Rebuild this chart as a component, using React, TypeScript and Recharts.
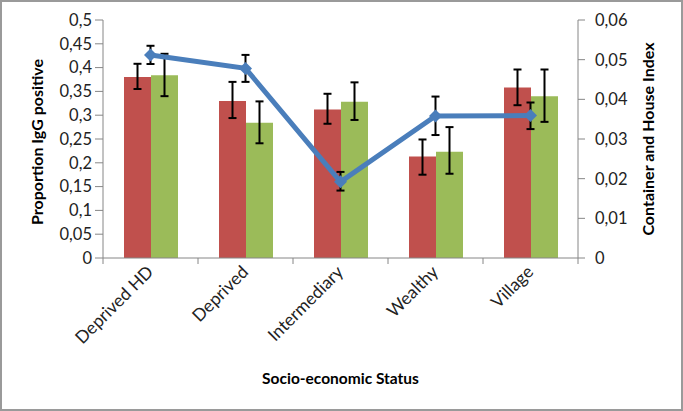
import React from 'react';
import { ComposedChart, Bar, Line, XAxis, YAxis, ErrorBar, Label } from 'recharts';

const categories = ['Deprived HD', 'Deprived', 'Intermediary', 'Wealthy', 'Village'];

// proportion IgG positive (red and green bars) with 95% CI bounds
const iggRed = [0.38, 0.33, 0.312, 0.213, 0.358];
const iggRedLow = [0.355, 0.294, 0.282, 0.175, 0.321];
const iggRedHigh = [0.408, 0.37, 0.345, 0.249, 0.396];

const iggGreen = [0.384, 0.284, 0.328, 0.223, 0.34];
const iggGreenLow = [0.34, 0.241, 0.29, 0.177, 0.286];
const iggGreenHigh = [0.429, 0.329, 0.369, 0.275, 0.396];

// container and house index (blue line)
const houseIndex = [0.0512, 0.0478, 0.0192, 0.0358, 0.0359];
const houseIndexLow = [0.0489, 0.0444, 0.017, 0.031, 0.0325];
const houseIndexHigh = [0.0535, 0.0512, 0.0217, 0.0407, 0.0392];

const leftTicks = [0, 0.05, 0.1, 0.15, 0.2, 0.25, 0.3, 0.35, 0.4, 0.45, 0.5];
const rightTicks = [0, 0.01, 0.02, 0.03, 0.04, 0.05, 0.06];

const data = categories.map((name, i) => ({
  name,
  red: iggRed[i],
  redErr: [iggRed[i] - iggRedLow[i], iggRedHigh[i] - iggRed[i]],
  green: iggGreen[i],
  greenErr: [iggGreen[i] - iggGreenLow[i], iggGreenHigh[i] - iggGreen[i]],
  index: houseIndex[i],
  indexErr: [houseIndex[i] - houseIndexLow[i], houseIndexHigh[i] - houseIndex[i]],
}));

const FONT = 'Lato, "Open Sans", sans-serif';
const AXIS = '#868686';

const comma = (v: number) => String(v).replace('.', ',');

const CategoryTick = (props: any) => {
  const { x, payload, index } = props;
  const half = payload && payload.offset ? payload.offset : 47.5;
  const ay = 258;
  return (
    <g>
      <line x1={x - half} y1={ay} x2={x - half} y2={ay + 6} stroke={AXIS} />
      {index === categories.length - 1 && (
        <line x1={x + half} y1={ay} x2={x + half} y2={ay + 6} stroke={AXIS} />
      )}
      <text
        x={x + 4}
        y={ay + 15}
        transform={`rotate(-45, ${x + 4}, ${ay + 15})`}
        textAnchor="end"
        fontFamily={FONT}
        fontSize={17.5}
        fill="#222"
      >
        {payload.value}
      </text>
    </g>
  );
};

const Diamond = (props: any) => {
  const { cx, cy, index } = props;
  if (cx == null || cy == null) return <g key={index} />;
  const s = 6.5;
  return (
    <path
      key={index}
      d={`M${cx},${cy - s} L${cx + s},${cy} L${cx},${cy + s} L${cx - s},${cy} Z`}
      fill="#4A7EBB"
    />
  );
};

export default function App() {
  return (
    <div style={{ position: 'absolute', left: 0, top: 0, width: 683, height: 411 }}>
      <div
        style={{
          position: 'absolute',
          left: 0,
          top: 0,
          width: 683,
          height: 411,
          boxSizing: 'border-box',
          border: '2px solid #9a9a9a',
        }}
      />
      <ComposedChart
        width={683}
        height={411}
        data={data}
        margin={{ top: 20, right: 0, left: 0, bottom: 0 }}
        barGap={0}
        style={{ position: 'absolute', left: 0, top: 0 }}
      >
        <XAxis
          dataKey="name"
          height={153}
          stroke={AXIS}
          tickLine={false}
          interval={0}
          tick={<CategoryTick />}
        >
          <Label
            value="Socio-economic Status"
            position="center"
            dy={44}
            style={{ fontFamily: FONT, fontSize: 15.5, fontWeight: 700, fill: '#000' }}
          />
        </XAxis>
        <YAxis
          yAxisId="left"
          width={103}
          domain={[0, 0.5]}
          ticks={leftTicks}
          interval={0}
          tickFormatter={comma}
          stroke={AXIS}
          tickSize={8}
          tickMargin={3}
          tick={{ fontFamily: FONT, fontSize: 16.5, fill: '#222' }}
        >
          <Label
            value="Proportion IgG positive"
            angle={-90}
            position="center"
            dx={-14}
            dy={3}
            style={{ fontFamily: FONT, fontSize: 16, fontWeight: 700, fill: '#000', textAnchor: 'middle' }}
          />
        </YAxis>
        <YAxis
          yAxisId="right"
          orientation="right"
          width={105}
          domain={[0, 0.06]}
          ticks={rightTicks}
          interval={0}
          tickFormatter={comma}
          stroke={AXIS}
          tickSize={7}
          tickMargin={10}
          tick={{ fontFamily: FONT, fontSize: 16.5, fill: '#222' }}
        >
          <Label
            value="Container and House Index"
            angle={-90}
            position="center"
            dx={18}
            style={{ fontFamily: FONT, fontSize: 16, fontWeight: 700, fill: '#000', textAnchor: 'middle' }}
          />
        </YAxis>
        <Bar yAxisId="left" dataKey="red" fill="#C0504D" barSize={27} isAnimationActive={false}>
          <ErrorBar dataKey="redErr" width={4} stroke="#000" strokeWidth={2} />
        </Bar>
        <Bar yAxisId="left" dataKey="green" fill="#9BBB59" barSize={27} isAnimationActive={false}>
          <ErrorBar dataKey="greenErr" width={4} stroke="#000" strokeWidth={2} />
        </Bar>
        <Line
          yAxisId="right"
          dataKey="index"
          stroke="#4A7EBB"
          strokeWidth={5}
          dot={Diamond}
          activeDot={false}
          isAnimationActive={false}
        >
          <ErrorBar dataKey="indexErr" width={4} stroke="#000" strokeWidth={2} />
        </Line>
      </ComposedChart>
    </div>
  );
}
